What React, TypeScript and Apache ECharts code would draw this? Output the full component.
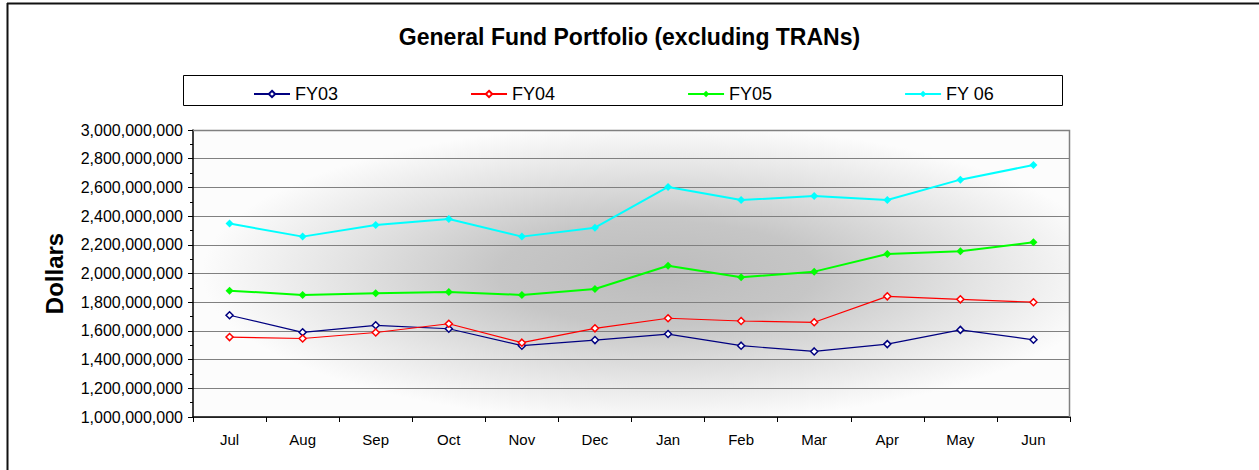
import React, { useEffect, useRef } from "react";
import * as echarts from "echarts";

const months = ["Jul", "Aug", "Sep", "Oct", "Nov", "Dec", "Jan", "Feb", "Mar", "Apr", "May", "Jun"];
const fy03 = [1709e6, 1590e6, 1639e6, 1615e6, 1497e6, 1536e6, 1578e6, 1497e6, 1457e6, 1508e6, 1607e6, 1538e6];
const fy04 = [1557e6, 1547e6, 1589e6, 1650e6, 1518e6, 1618e6, 1688e6, 1669e6, 1660e6, 1841e6, 1820e6, 1800e6];
const fy05 = [1880e6, 1851e6, 1862e6, 1871e6, 1851e6, 1892e6, 2054e6, 1974e6, 2013e6, 2136e6, 2155e6, 2217e6];
const fy06 = [2348e6, 2257e6, 2338e6, 2380e6, 2257e6, 2319e6, 2603e6, 2512e6, 2540e6, 2512e6, 2654e6, 2756e6];
const seriesNames = ["FY03", "FY04", "FY05", "FY 06"];

const FONT = 'Arial, "Liberation Sans", sans-serif';

export default function App() {
  const ref = useRef<HTMLDivElement>(null);
  useEffect(() => {
    document.body.style.margin = "0";
    const chart = echarts.init(ref.current!, null, { renderer: "svg" });
    const gL = 193, gT = 130, gW = 877, gH = 287;
    const hollow = (name: string, data: number[], color: string) => ({
      name, type: "line", data,
      symbol: "diamond", symbolSize: 7,
      lineStyle: { color, width: 1.2 },
      itemStyle: { color: "#ffffff", borderColor: color, borderWidth: 1.5 },
      z: 5,
    });
    const filled = (name: string, data: number[], color: string) => ({
      name, type: "line", data,
      symbol: "diamond", symbolSize: 8,
      lineStyle: { color, width: 2 },
      itemStyle: { color, borderColor: color, borderWidth: 0 },
      z: 5,
    });
    chart.setOption({
      animation: false,
      backgroundColor: "#ffffff",
      title: {
        text: "General Fund Portfolio (excluding TRANs)",
        left: "center",
        top: 20,
        textStyle: { fontFamily: FONT, fontSize: 23, fontWeight: "bold", color: "#000" },
      },
      legend: {
        data: seriesNames,
        left: 248,
        top: 80,
        itemWidth: 36,
        itemHeight: 8,
        itemGap: 132,
        textStyle: { fontFamily: FONT, fontSize: 18, color: "#000" },
      },
      graphic: [
        {
          type: "rect",
          x: gL, y: gT,
          scaleY: gH / gW,
          shape: { x: 0, y: 0, width: gW, height: gW },
          style: {
            fill: new echarts.graphic.RadialGradient(0.53, 0.5, 0.52, [
              { offset: 0, color: "#bcbcbc" },
              { offset: 0.35, color: "#c6c6c6" },
              { offset: 0.7, color: "#e4e4e4" },
              { offset: 1, color: "#fcfcfc" },
            ]),
          },
          z: -1,
          silent: true,
        },
        {
          type: "rect",
          shape: { x: 183.5, y: 75.5, width: 879, height: 30 },
          style: { fill: "none", stroke: "#000", lineWidth: 1 },
          silent: true,
        },
        {
          type: "line",
          shape: { x1: 7, y1: 3.5, x2: 1259, y2: 3.5 },
          style: { stroke: "#111", lineWidth: 2 },
          silent: true,
        },
        {
          type: "line",
          shape: { x1: 7.5, y1: 3, x2: 7.5, y2: 470 },
          style: { stroke: "#111", lineWidth: 2 },
          silent: true,
        },
        {
          type: "polyline",
          shape: { points: [[gL, gT + 0.5], [gL + gW - 0.5, gT + 0.5], [gL + gW - 0.5, gT + gH]] },
          style: { stroke: "#808080", lineWidth: 1.5, fill: "none" },
          silent: true,
          z: 1,
        },
      ],
      grid: { left: gL, top: gT, width: gW, height: gH, containLabel: false, show: false },
      xAxis: {
        type: "category",
        data: months,
        boundaryGap: true,
        axisLine: { lineStyle: { color: "#000", width: 1.5 } },
        axisTick: { show: true, alignWithLabel: false, length: 5, inside: false, lineStyle: { color: "#000" } },
        axisLabel: { fontFamily: FONT, fontSize: 15, color: "#000", margin: 15 },
        splitLine: { show: false },
      },
      yAxis: {
        type: "value",
        min: 1000000000,
        max: 3000000000,
        interval: 200000000,
        name: "Dollars",
        nameLocation: "middle",
        nameRotate: 90,
        nameGap: 127,
        nameTextStyle: { fontFamily: FONT, fontSize: 24, fontWeight: "bold", color: "#000" },
        axisLine: { show: true, lineStyle: { color: "#000", width: 1.5 } },
        axisTick: { show: true, length: 5, lineStyle: { color: "#000" } },
        minorTick: { show: true, splitNumber: 2, length: 3, lineStyle: { color: "#000" } },
        axisLabel: {
          fontFamily: FONT, fontSize: 16, color: "#000", margin: 10,
          formatter: (v: number) => Math.round(v).toLocaleString("en-US"),
        },
        splitLine: { show: true, lineStyle: { color: "#808080", width: 1 } },
      },
      series: [
        hollow(seriesNames[0], fy03, "#000080"),
        hollow(seriesNames[1], fy04, "#ff0000"),
        filled(seriesNames[2], fy05, "#00ff00"),
        filled(seriesNames[3], fy06, "#00ffff"),
      ],
    });
    return () => chart.dispose();
  }, []);
  return <div ref={ref} style={{ width: 1259, height: 470 }} />;
}
